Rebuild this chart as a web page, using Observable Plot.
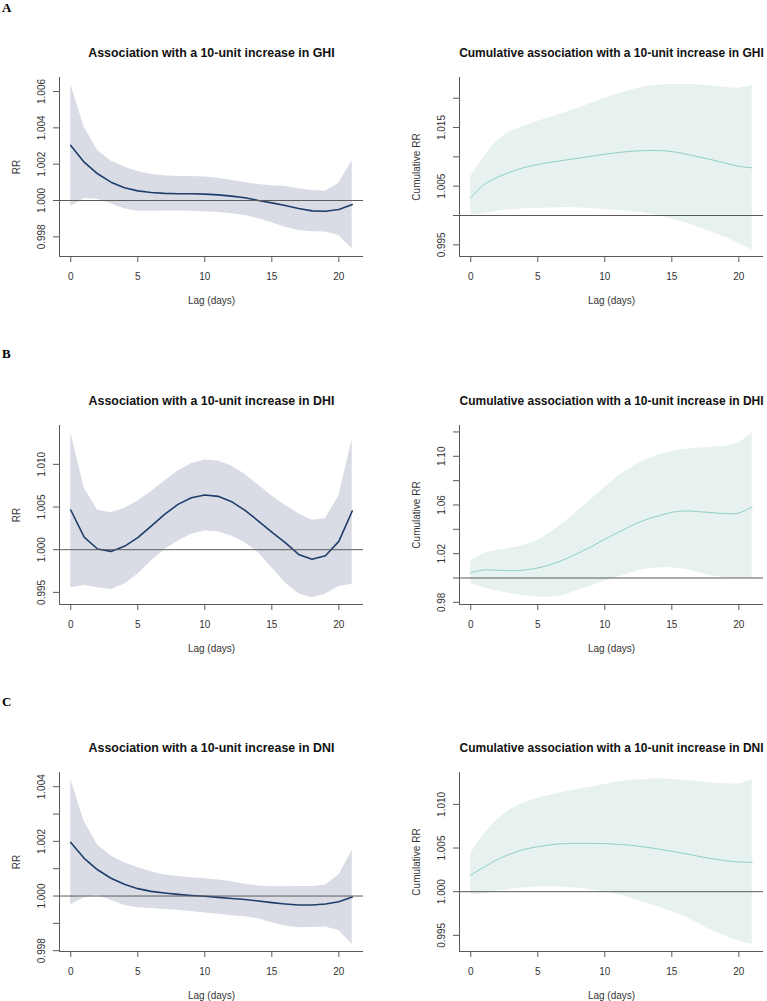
<!DOCTYPE html>
<html>
<head>
<meta charset="utf-8">
<script src="https://cdn.jsdelivr.net/npm/d3@7"></script>
<script src="https://cdn.jsdelivr.net/npm/@observablehq/plot@0.6"></script>
<style>
  html, body { margin: 0; padding: 0; background: #fff; }
  #fig { position: relative; width: 767px; height: 1001px; background: #fff; overflow: hidden; }
  .plabel { position: absolute; font-family: "Liberation Serif", "Times New Roman", serif; font-weight: bold; font-size: 13px; color: #000; line-height: 1; }
</style>
</head>
<body>
<div id="fig"></div>
<script>
// ---- Data ----
const lags = [0,1,2,3,4,5,6,7,8,9,10,11,12,13,14,15,16,17,18,19,20,21];

// A: GHI, lag-specific
const ghiFit = [1.00303,1.00211,1.00147,1.00101,1.00070,1.00053,1.00044,1.00039,1.00037,1.00037,1.00035,1.00031,1.00024,1.00015,1.00000,0.99987,0.99972,0.99956,0.99943,0.99941,0.99950,0.99978];
const ghiHi  = [1.00639,1.00404,1.00275,1.00217,1.00184,1.00160,1.00143,1.00136,1.00132,1.00132,1.00130,1.00123,1.00110,1.00099,1.00088,1.00081,1.00077,1.00064,1.00055,1.00051,1.00095,1.00220];
const ghiLo  = [0.99967,1.00011,1.00007,0.99982,0.99954,0.99941,0.99941,0.99942,0.99942,0.99941,0.99938,0.99934,0.99927,0.99917,0.99900,0.99877,0.99853,0.99835,0.99828,0.99826,0.99807,0.99734];
// A: GHI, cumulative
const ghiCumFit = [1.00300,1.00528,1.00653,1.00744,1.00818,1.00869,1.00909,1.00943,1.00977,1.01010,1.01045,1.01074,1.01096,1.01108,1.01108,1.01090,1.01050,1.01000,1.00949,1.00892,1.00840,1.00812];
const ghiCumHi  = [1.00665,1.00994,1.01278,1.01431,1.01522,1.01607,1.01676,1.01750,1.01829,1.01914,1.02000,1.02073,1.02141,1.02192,1.02221,1.02232,1.02232,1.02227,1.02210,1.02187,1.02170,1.02215];
const ghiCumLo  = [1.00000,1.00028,1.00074,1.00097,1.00114,1.00125,1.00130,1.00136,1.00130,1.00119,1.00102,1.00085,1.00068,1.00040,1.00000,0.99943,0.99875,0.99801,0.99716,0.99631,0.99529,0.99415];

// B: DHI, lag-specific
const dhiFit = [1.00465,1.00148,1.00008,0.99980,1.00039,1.00141,1.00277,1.00414,1.00531,1.00609,1.00641,1.00625,1.00563,1.00461,1.00336,1.00207,1.00082,0.99945,0.99887,0.99930,1.00098,1.00453];
const dhiHi  = [1.01371,1.00727,1.00461,1.00434,1.00484,1.00570,1.00680,1.00805,1.00922,1.01008,1.01051,1.01039,1.00980,1.00883,1.00758,1.00629,1.00520,1.00422,1.00344,1.00363,1.00629,1.01293];
const dhiLo  = [0.99555,0.99582,0.99555,0.99535,0.99594,0.99711,0.99867,1.00000,1.00102,1.00180,1.00219,1.00211,1.00160,1.00082,0.99965,0.99789,0.99613,0.99484,0.99437,0.99477,0.99570,0.99594];
// B: DHI, cumulative
const dhiCumFit = [1.0044,1.0066,1.0063,1.0060,1.0066,1.0082,1.0112,1.0153,1.0203,1.0258,1.0318,1.0375,1.0430,1.0477,1.0510,1.0540,1.0551,1.0545,1.0537,1.0529,1.0534,1.0584];
const dhiCumHi  = [1.0140,1.0200,1.0227,1.0244,1.0269,1.0310,1.0378,1.0460,1.0551,1.0647,1.0743,1.0833,1.0907,1.0967,1.1011,1.1039,1.1055,1.1066,1.1074,1.1082,1.1112,1.1195];
const dhiCumLo  = [0.9956,0.9920,0.9893,0.9871,0.9855,0.9844,0.9844,0.9860,0.9899,0.9934,0.9975,1.0008,1.0044,1.0071,1.0082,1.0085,1.0071,1.0044,1.0016,1.0003,0.9997,1.0000];

// C: DNI, lag-specific
const dniFit = [1.00196,1.00138,1.00096,1.00065,1.00043,1.00027,1.00017,1.00011,1.00006,1.00002,0.99999,0.99995,0.99991,0.99987,0.99982,0.99976,0.99971,0.99967,0.99967,0.99971,0.99979,0.99996];
const dniHi  = [1.00427,1.00274,1.00187,1.00146,1.00122,1.00104,1.00089,1.00077,1.00071,1.00067,1.00063,1.00059,1.00052,1.00043,1.00037,1.00034,1.00034,1.00035,1.00035,1.00039,1.00077,1.00167];
const dniLo  = [0.99967,0.99994,1.00004,0.99984,0.99966,0.99957,0.99954,0.99951,0.99948,0.99943,0.99938,0.99933,0.99928,0.99924,0.99917,0.99902,0.99890,0.99884,0.99885,0.99887,0.99874,0.99823];
// C: DNI, cumulative
const dniCumFit = [1.00191,1.00282,1.00370,1.00435,1.00485,1.00515,1.00538,1.00550,1.00553,1.00553,1.00550,1.00542,1.00531,1.00511,1.00489,1.00462,1.00435,1.00405,1.00378,1.00355,1.00340,1.00336];
const dniCumHi  = [1.00435,1.00657,1.00828,1.00943,1.01019,1.01069,1.01107,1.01141,1.01172,1.01199,1.01229,1.01256,1.01275,1.01286,1.01290,1.01286,1.01275,1.01260,1.01244,1.01237,1.01237,1.01286];
const dniCumLo  = [0.99969,0.99977,1.00008,1.00027,1.00046,1.00053,1.00053,1.00050,1.00038,1.00023,1.00000,0.99969,0.99924,0.99874,0.99824,0.99771,0.99710,0.99634,0.99557,0.99489,0.99435,0.99397];

// Tick labels
const xTicks = [0, 5, 10, 15, 20];
const ghiTicks = [0.998, 1.000, 1.002, 1.004, 1.006];
const ghiTickLabels = [0.998, 1.000, 1.002, 1.004, 1.006];
const ghiCumTicks = [0.995, 1.000, 1.005, 1.010, 1.015, 1.020];
const ghiCumTickLabels = [0.995, 1.005, 1.015];
const dhiTicks = [0.995, 1.000, 1.005, 1.010];
const dhiTickLabels = [0.995, 1.000, 1.005, 1.010];
const dhiCumTicks = [0.98, 1.00, 1.02, 1.04, 1.06, 1.08, 1.10, 1.12];
const dhiCumTickLabels = [0.98, 1.02, 1.06, 1.10];
const dniTicks = [0.998, 0.999, 1.000, 1.001, 1.002, 1.003, 1.004];
const dniTickLabels = [0.998, 1.000, 1.002, 1.004];
const dniCumTicks = [0.995, 1.000, 1.005, 1.010];
const dniCumTickLabels = [0.995, 1.000, 1.005, 1.010];

// Scale domains (axis extents)
const xDomain = [-0.84, 21.84];
const ghiDomain = [0.996917, 1.006771];
const ghiCumDomain = [0.99301, 1.02353];
const dhiDomain = [0.99358, 1.01455];
const dhiCumDomain = [0.97822, 1.1253];
const dniDomain = [0.99797, 1.00452];
const dniCumDomain = [0.99315, 1.01365];

// ---- Drawing ----
const FONT = "'Liberation Sans', Arial, Helvetica, sans-serif";
const fig = document.getElementById("fig");
const FRAME_H = 179, MT = 40, MB = 50;

function rows(fit, lo, hi) {
  return lags.map((l, i) => ({lag: l, fit: fit[i], lo: lo[i], hi: hi[i]}));
}

function panel({fit, lo, hi, domain, ticks, labeled, digits, title, ylabel, col, frameTop, cumulative}) {
  const data = rows(fit, lo, hi);
  const left = col === 0;
  const bandFill = cumulative ? "#e7f1ef" : "#d9dce5";
  const lineStroke = cumulative ? "#8fd0c3" : "#1f3d6c";
  const lineWidth = cumulative ? 1 : 1.6;
  const curve = cumulative ? "catmull-rom" : "linear";
  const fmt = d3.format(`.${digits}f`);
  const labelSet = new Set(labeled.map(v => fmt(v)));
  const svg = Plot.plot({
    width: 383,
    height: MT + FRAME_H + MB,
    marginTop: MT,
    marginBottom: MB,
    marginLeft: left ? 59 : 75,
    marginRight: left ? 20 : 4,
    style: {fontFamily: FONT, fontSize: "10px", background: "transparent", color: "#333"},
    x: {domain: xDomain},
    y: {domain},
    marks: [
      Plot.areaY(data, {x: "lag", y1: "lo", y2: "hi", fill: bandFill, curve}),
      Plot.lineY(data, {x: "lag", y: "fit", stroke: lineStroke, strokeWidth: lineWidth, curve}),
      Plot.ruleY([1], {stroke: "#5a5a5a", strokeWidth: 1}),
      Plot.ruleX([xDomain[0]], {stroke: "#5a5a5a", strokeWidth: 1}),
      Plot.ruleY([domain[0]], {stroke: "#5a5a5a", strokeWidth: 1}),
      Plot.axisX({ticks: xTicks, tickSize: 6, tickPadding: 10, stroke: "#5a5a5a", fill: "#333", label: null, tickFormat: d => String(d)}),
      Plot.axisY({ticks, tickSize: 6, tickPadding: 9, tickRotate: -90, stroke: "#5a5a5a", fill: "#333", label: null,
        tickFormat: v => labelSet.has(fmt(v)) ? fmt(v) : ""}),
      Plot.text([title], {frameAnchor: "top", dy: -24, fontSize: left ? 12.4 : 12, fontWeight: "bold", fill: "#111", lineAnchor: "middle"}),
      Plot.text(["Lag (days)"], {frameAnchor: "bottom", dy: 44, fontSize: 10, fill: "#333", lineAnchor: "middle"}),
      Plot.text([ylabel], {frameAnchor: "left", dx: -43, rotate: -90, fontSize: 10, fill: "#333", lineAnchor: "middle", textAnchor: "middle"})
    ]
  });
  svg.style.position = "absolute";
  svg.style.left = (left ? 0 : 384) + "px";
  svg.style.top = (frameTop - MT) + "px";
  svg.style.overflow = "visible";
  fig.appendChild(svg);
}

const tops = [77, 424.5, 771.5];

panel({fit: ghiFit, lo: ghiLo, hi: ghiHi, domain: ghiDomain, ticks: ghiTicks, labeled: ghiTickLabels, digits: 3,
  title: "Association with a 10-unit increase in GHI", ylabel: "RR", col: 0, frameTop: tops[0], cumulative: false});
panel({fit: ghiCumFit, lo: ghiCumLo, hi: ghiCumHi, domain: ghiCumDomain, ticks: ghiCumTicks, labeled: ghiCumTickLabels, digits: 3,
  title: "Cumulative association with a 10-unit increase in GHI", ylabel: "Cumulative RR", col: 1, frameTop: tops[0], cumulative: true});
panel({fit: dhiFit, lo: dhiLo, hi: dhiHi, domain: dhiDomain, ticks: dhiTicks, labeled: dhiTickLabels, digits: 3,
  title: "Association with a 10-unit increase in DHI", ylabel: "RR", col: 0, frameTop: tops[1], cumulative: false});
panel({fit: dhiCumFit, lo: dhiCumLo, hi: dhiCumHi, domain: dhiCumDomain, ticks: dhiCumTicks, labeled: dhiCumTickLabels, digits: 2,
  title: "Cumulative association with a 10-unit increase in DHI", ylabel: "Cumulative RR", col: 1, frameTop: tops[1], cumulative: true});
panel({fit: dniFit, lo: dniLo, hi: dniHi, domain: dniDomain, ticks: dniTicks, labeled: dniTickLabels, digits: 3,
  title: "Association with a 10-unit increase in DNI", ylabel: "RR", col: 0, frameTop: tops[2], cumulative: false});
panel({fit: dniCumFit, lo: dniCumLo, hi: dniCumHi, domain: dniCumDomain, ticks: dniCumTicks, labeled: dniCumTickLabels, digits: 3,
  title: "Cumulative association with a 10-unit increase in DNI", ylabel: "Cumulative RR", col: 1, frameTop: tops[2], cumulative: true});

// Panel letters
const panelLetters = ["A", "B", "C"];
const letterTops = [1, 347, 695];
panelLetters.forEach((t, i) => {
  const d = document.createElement("div");
  d.className = "plabel";
  d.textContent = t;
  d.style.left = "2px";
  d.style.top = letterTops[i] + "px";
  fig.appendChild(d);
});
</script>
</body>
</html>
